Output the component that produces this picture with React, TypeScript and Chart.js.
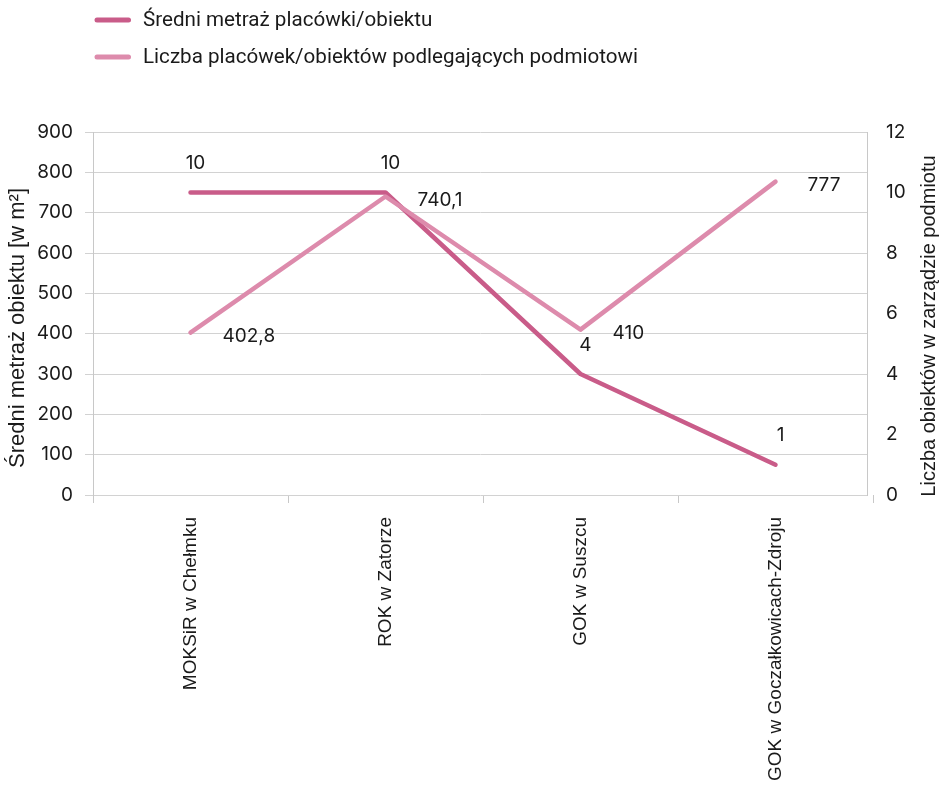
import { useEffect, useRef } from 'react';
import { Chart, registerables } from 'chart.js';

Chart.register(...registerables);

const categories = ['MOKSiR w Chełmku', 'ROK w Zatorze', 'GOK w Suszcu', 'GOK w Goczałkowicach-Zdroju'];
const countValues = [10, 10, 4, 1];
const areaValues = [402.8, 740.1, 410, 777];
const seriesNames = ['Średni metraż placówki/obiektu', 'Liczba placówek/obiektów podlegających podmiotowi'];
const leftTitle = 'Średni metraż obiektu [w m²]';
const rightTitle = 'Liczba obiektów w zarządzie podmiotu';
const leftTicks = { min: 0, max: 900, step: 100 };
const rightTicks = { min: 0, max: 12, step: 2 };

const DARK = 'rgb(201, 92, 137)';
const LIGHT = 'rgb(221, 139, 172)';
const TEXT = '#1a1a1a';
const GRID = '#d2d2d2';
const NUM_FONT = 'Inter';
const SANS = 'Liberation Sans';

const fmt = (v: number) => String(v).replace('.', ',');

export default function App() {
  const ref = useRef<HTMLCanvasElement | null>(null);

  useEffect(() => {
    document.body.style.margin = '0';
    document.body.style.overflow = 'hidden';
    const canvas = ref.current;
    if (!canvas) return;

    const xShift = {
      id: 'xShift',
      afterLayout(chart: any) {
        const x = chart.scales.x;
        x.right = chart.chartArea.right + 6;
        x.width = x.right - x.left;
        x.configure();
      },
    };

    const extras = {
      id: 'extras',
      afterDatasetsDraw(chart: any) {
        const ctx = chart.ctx;
        ctx.save();
        ctx.fillStyle = TEXT;
        ctx.font = `19px ${NUM_FONT}`;
        ctx.textBaseline = 'middle';
        const m0 = chart.getDatasetMeta(1);
        m0.data.forEach((p: any, i: number) => {
          ctx.textAlign = 'center';
          ctx.fillText(fmt(countValues[i]), p.x + 5, p.y - 29);
        });
        const m1 = chart.getDatasetMeta(0);
        m1.data.forEach((p: any, i: number) => {
          ctx.textAlign = 'left';
          ctx.fillText(fmt(areaValues[i]), p.x + 32, p.y + 4);
        });
        ctx.restore();
      },
      afterDraw(chart: any) {
        const ctx = chart.ctx;
        ctx.save();
        const colors = [DARK, LIGHT];
        seriesNames.forEach((name, i) => {
          const y = 20 + i * 37;
          ctx.strokeStyle = colors[i];
          ctx.lineWidth = 5;
          ctx.lineCap = 'round';
          ctx.beginPath();
          ctx.moveTo(97, y);
          ctx.lineTo(128.5, y);
          ctx.stroke();
          ctx.fillStyle = TEXT;
          ctx.font = '20.6px Roboto';
          ctx.textAlign = 'left';
          ctx.textBaseline = 'middle';
          ctx.fillText(name, 143, y + 1);
        });
        ctx.fillStyle = TEXT;
        ctx.textAlign = 'center';
        ctx.textBaseline = 'middle';
        ctx.save();
        ctx.translate(18, 328);
        ctx.rotate(-Math.PI / 2);
        ctx.font = `22px ${SANS}`;
        ctx.fillText(leftTitle, 0, 0);
        ctx.restore();
        ctx.save();
        ctx.translate(929, 326);
        ctx.rotate(-Math.PI / 2);
        ctx.font = `20px ${SANS}`;
        ctx.fillText(rightTitle, 0, 0);
        ctx.restore();
        ctx.restore();
      },
    };

    const chart = new Chart(canvas, {
      type: 'line',
      data: {
        labels: categories,
        datasets: [
          {
            label: seriesNames[1],
            data: areaValues,
            yAxisID: 'y',
            borderColor: LIGHT,
            backgroundColor: LIGHT,
            borderWidth: 4.5,
            pointRadius: 0,
            tension: 0,
            borderCapStyle: 'round',
            borderJoinStyle: 'round',
            order: 1,
          },
          {
            label: seriesNames[0],
            data: countValues,
            yAxisID: 'y1',
            borderColor: DARK,
            backgroundColor: DARK,
            borderWidth: 4.5,
            pointRadius: 0,
            tension: 0,
            borderCapStyle: 'round',
            borderJoinStyle: 'round',
            order: 2,
          },
        ],
      },
      options: {
        responsive: false,
        animation: false,
        layout: { padding: { top: 132, left: 0, right: 0, bottom: 0 } },
        plugins: {
          legend: { display: false },
          tooltip: { enabled: false },
          title: { display: false },
        },
        scales: {
          x: {
            type: 'category',
            offset: true,
            grid: { display: true, drawOnChartArea: false, offset: true, tickLength: 8, color: '#c8c8c8' },
            border: { display: false },
            ticks: {
              autoSkip: false,
              maxRotation: 90,
              minRotation: 90,
              padding: 14,
              color: TEXT,
              font: { family: SANS, size: 19 },
            },
            afterFit: (s: any) => {
              s.height = 300;
            },
          },
          y: {
            position: 'left',
            min: leftTicks.min,
            max: leftTicks.max,
            ticks: { stepSize: leftTicks.step, padding: 12, color: TEXT, font: { family: NUM_FONT, size: 19 } },
            grid: { color: GRID, tickLength: 8 },
            border: { color: '#c8c8c8' },
            afterFit: (s: any) => {
              s.width = 93;
            },
          },
          y1: {
            position: 'right',
            min: rightTicks.min,
            max: rightTicks.max,
            ticks: { stepSize: rightTicks.step, padding: 19, color: TEXT, font: { family: NUM_FONT, size: 19 } },
            grid: { drawOnChartArea: false, drawTicks: false },
            border: { color: '#c8c8c8' },
            afterFit: (s: any) => {
              s.width = 76;
            },
          },
        },
      },
      plugins: [xShift, extras],
    });

    return () => chart.destroy();
  }, []);

  return (
    <div style={{ width: 943, height: 795 }}>
      <canvas ref={ref} width={943} height={795} style={{ display: 'block' }} />
    </div>
  );
}
